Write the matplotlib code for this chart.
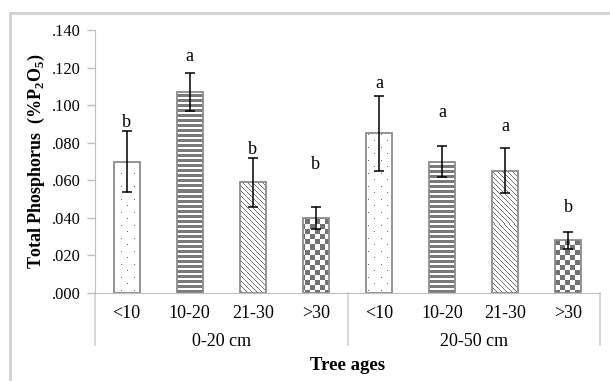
import numpy as np
import matplotlib
matplotlib.use("Agg")
import matplotlib.pyplot as plt
from matplotlib.patches import Rectangle
from matplotlib.transforms import blended_transform_factory

# ---------------- data ----------------
groups = ["0-20 cm", "20-50 cm"]
ages = ["<10", "10-20", "21-30", ">30"]
values = [0.070, 0.107, 0.059, 0.040, 0.085, 0.070, 0.065, 0.028]
errors = [0.016, 0.010, 0.013, 0.006, 0.020, 0.008, 0.012, 0.0045]
letters = ["b", "a", "b", "b", "a", "a", "a", "b"]
letter_y = [0.0885, 0.1235, 0.0742, 0.0662, 0.1090, 0.0937, 0.0865, 0.0430]
yticks = [0.0, 0.02, 0.04, 0.06, 0.08, 0.10, 0.12, 0.14]
ytick_labels = [".000", ".020", ".040", ".060", ".080", ".100", ".120", ".140"]
patterns = ["dots", "hlines", "diag", "checker"]

plt.rcParams['font.family'] = ['Liberation Serif', 'DejaVu Serif']

W, H = 610, 381
fig = plt.figure(figsize=(W / 100, H / 100), dpi=100)
ax_l, ax_r, ax_t, ax_b = 95, 600, 30, 293
ax = fig.add_axes([ax_l / W, 1 - ax_b / H, (ax_r - ax_l) / W, (ax_b - ax_t) / H])

# outer frame
fig.patches.append(Rectangle((10 / W, -0.1), 1.2, 1 - 13 / H + 0.1, transform=fig.transFigure,
                             fill=False, edgecolor="#d0d0d0", lw=2))

n = len(values)
x = np.arange(n)
bars = ax.bar(x, values, width=0.41, facecolor="none", edgecolor="#8c8c8c", linewidth=1.3, zorder=3)
ax.errorbar(x, values, yerr=errors, fmt="none", ecolor="black", elinewidth=1.1,
            capsize=3.5, capthick=1.1, zorder=4)

# pattern images in pixel units
pw, ph = ax_r - ax_l, ax_b - ax_t
yy, xx = np.mgrid[0:ph, 0:pw]

def make(mask, col):
    img = np.ones((ph, pw, 3))
    img[mask] = col
    return img

g45 = np.array([0.45, 0.45, 0.45])
dots_mask = (((xx % 13) == 0) & ((yy % 13) == 0)) | (((xx % 13) == 6) & ((yy % 13) == 6))
pat_imgs = {
    "dots": make(dots_mask, np.array([0.4, 0.4, 0.4])),
    "hlines": make((yy % 5) < 3, np.array([0.48, 0.48, 0.48])),
    "diag": make(((xx - yy) % 5) == 0, np.array([0.45, 0.45, 0.45])),
    "checker": make(((xx // 5) + (yy // 5)) % 2 == 0, g45),
}

for i, b in enumerate(bars):
    p = patterns[i % 4]
    im = ax.imshow(pat_imgs[p], extent=[0, 1, 0, 1], transform=ax.transAxes,
                   interpolation="nearest", aspect="auto", zorder=2)
    im.set_clip_path(b)

ax.set_xlim(-0.5, n - 0.5)
ax.set_ylim(0, 0.14)

for i in range(n):
    ax.text(x[i], letter_y[i], letters[i], ha="center", va="baseline",
            fontsize=13, zorder=5)

# axes styling
for s in ["top", "right"]:
    ax.spines[s].set_visible(False)
ax.spines["left"].set_color("#bfbfbf")
ax.spines["bottom"].set_color("#bfbfbf")
ax.set_yticks(yticks)
ax.set_yticklabels(ytick_labels, fontsize=11.8)
ax.tick_params(axis="y", colors="#bfbfbf", labelcolor="black", length=6, width=1, pad=4.5)
ax.set_xticks(x)
ax.set_xticklabels(ages * 2, fontsize=13)
ax.tick_params(axis="x", length=0, pad=9)

trans = blended_transform_factory(ax.transData, ax.transAxes)
for xs in [-0.5, 3.5, 7.5]:
    ax.plot([xs, xs], [0, -52 / ph], transform=trans, color="#cfcfcf", lw=1.2, clip_on=False)
for gi, g in enumerate(groups):
    ax.text(gi * 4 + 1.5, -(341 - ax_b) / ph, g, transform=trans, ha="center", va="center",
            fontsize=13)

ax.set_ylabel("Total Phosphorus  (%P$_\\mathregular{2}$O$_\\mathregular{5}$)", fontsize=13,
              fontweight="bold")
ax.yaxis.set_label_coords(-(ax_l - 47) / pw, 0.5)
fig.text((ax_l + ax_r) / 2 / W, 1 - 366 / H, "Tree ages", ha="center", va="center",
         fontsize=13.5, fontweight="bold")

fig.savefig("out.png", dpi=100)
